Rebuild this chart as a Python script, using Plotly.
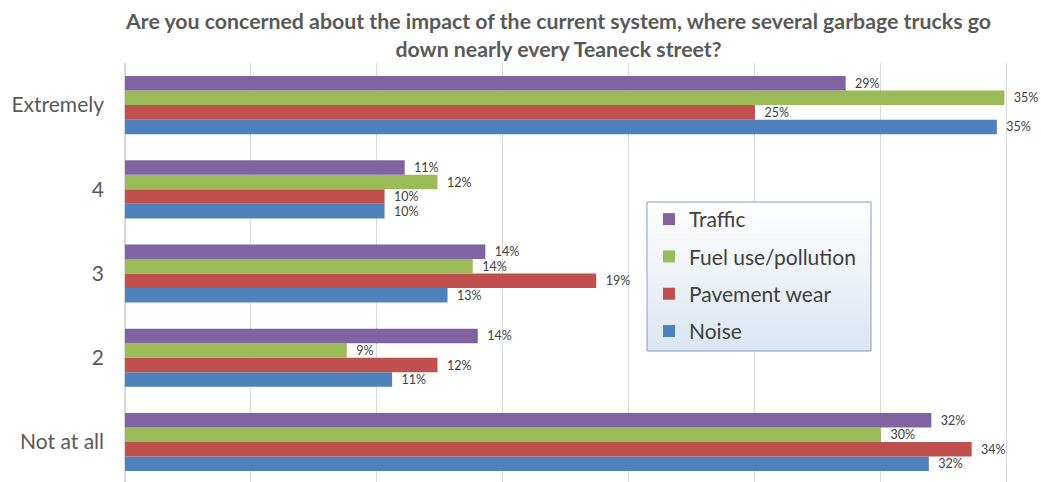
import plotly.graph_objects as go

categories = ["Not at all", "2", "3", "4", "Extremely"]
series_names = ["Noise", "Pavement wear", "Fuel use/pollution", "Traffic"]
noise = [31.9, 10.6, 12.8, 10.3, 34.6]
pavement = [33.6, 12.4, 18.7, 10.3, 25.0]
fuel = [30.0, 8.8, 13.8, 12.4, 34.9]
traffic = [32.0, 14.0, 14.3, 11.1, 28.6]
colors = ["#4F81BD", "#C0504D", "#9BBB59", "#8064A2"]
title_lines = ["Are you concerned about the impact of the current system, where several garbage trucks go",
               "down nearly every Teaneck street?"]

FONT = "Lato, 'Open Sans', sans-serif"
W, H = 1041, 482
PL, PR, PT, PB = 125, 1012, 63, 482


def px(x):
    return (x - PL) / (PR - PL)


def py(y):
    return (PB - y) / (PB - PT)


fig = go.Figure()
for i, (name, vals) in enumerate(zip(series_names, [noise, pavement, fuel, traffic])):
    fig.add_trace(go.Bar(
        y=categories, x=vals, name=name, orientation="h",
        marker=dict(color=colors[i], line=dict(width=0)),
        texttemplate="\u00a0\u00a0%{x:.0f}%", textposition="outside",
        constraintext="none",
        textfont=dict(size=12.5, color="#404040", family=FONT),
        cliponaxis=False, legendgroup=name, legendrank=len(series_names) - i,
    ))

# gradient legend background
x0, x1, y0, y1 = 647, 871, 202, 351
n = 24
shapes = []
for k in range(n):
    t = k / (n - 1)
    r = int(255 + (220 - 255) * t)
    g = int(255 + (230 - 255) * t)
    b = int(255 + (242 - 255) * t)
    ya = y0 + (y1 - y0) * k / n
    yb = y0 + (y1 - y0) * (k + 1) / n
    shapes.append(dict(type="rect", xref="paper", yref="paper",
                       x0=px(x0), x1=px(x1), y0=py(yb), y1=py(ya) + 0.001,
                       fillcolor=f"rgb({r},{g},{b})", line=dict(width=0), layer="above"))
shapes.append(dict(type="rect", xref="paper", yref="paper",
                   x0=px(x0), x1=px(x1), y0=py(y1), y1=py(y0),
                   fillcolor="rgba(0,0,0,0)", line=dict(width=1, color="#7f9fc9"), layer="above"))

fig.update_layout(
    width=W, height=H,
    margin=dict(l=PL, r=W - PR, t=PT, b=0),
    paper_bgcolor="white", plot_bgcolor="white",
    barmode="group", bargap=0.31, bargroupgap=0,
    annotations=[dict(text="<br>".join(title_lines), xref="paper", yref="paper",
                      x=px(558), y=py(6), xanchor="center", yanchor="top",
                      showarrow=False, align="center",
                      font=dict(family=FONT, size=21.3, color="#595959", weight="bold"))],
    xaxis=dict(range=[0, 35.2], dtick=5, showticklabels=False, showgrid=True,
               gridcolor="#d9d9d9", gridwidth=1, zeroline=True, zerolinecolor="#d9d9d9",
               showline=False, fixedrange=True),
    yaxis=dict(range=[-0.475, 4.5], showgrid=False, showline=False, ticks="",
               tickfont=dict(family=FONT, size=21, color="#595959"), ticklabelstandoff=20),
    legend=dict(x=px(x0 + 2), y=py(y0 - 3), xanchor="left", yanchor="top",
                traceorder="grouped", bgcolor="rgba(0,0,0,0)", borderwidth=0,
                tracegroupgap=7, font=dict(family=FONT, size=21, color="#404040")),
    shapes=shapes,
    showlegend=True,
)
fig.write_html("out.html")
